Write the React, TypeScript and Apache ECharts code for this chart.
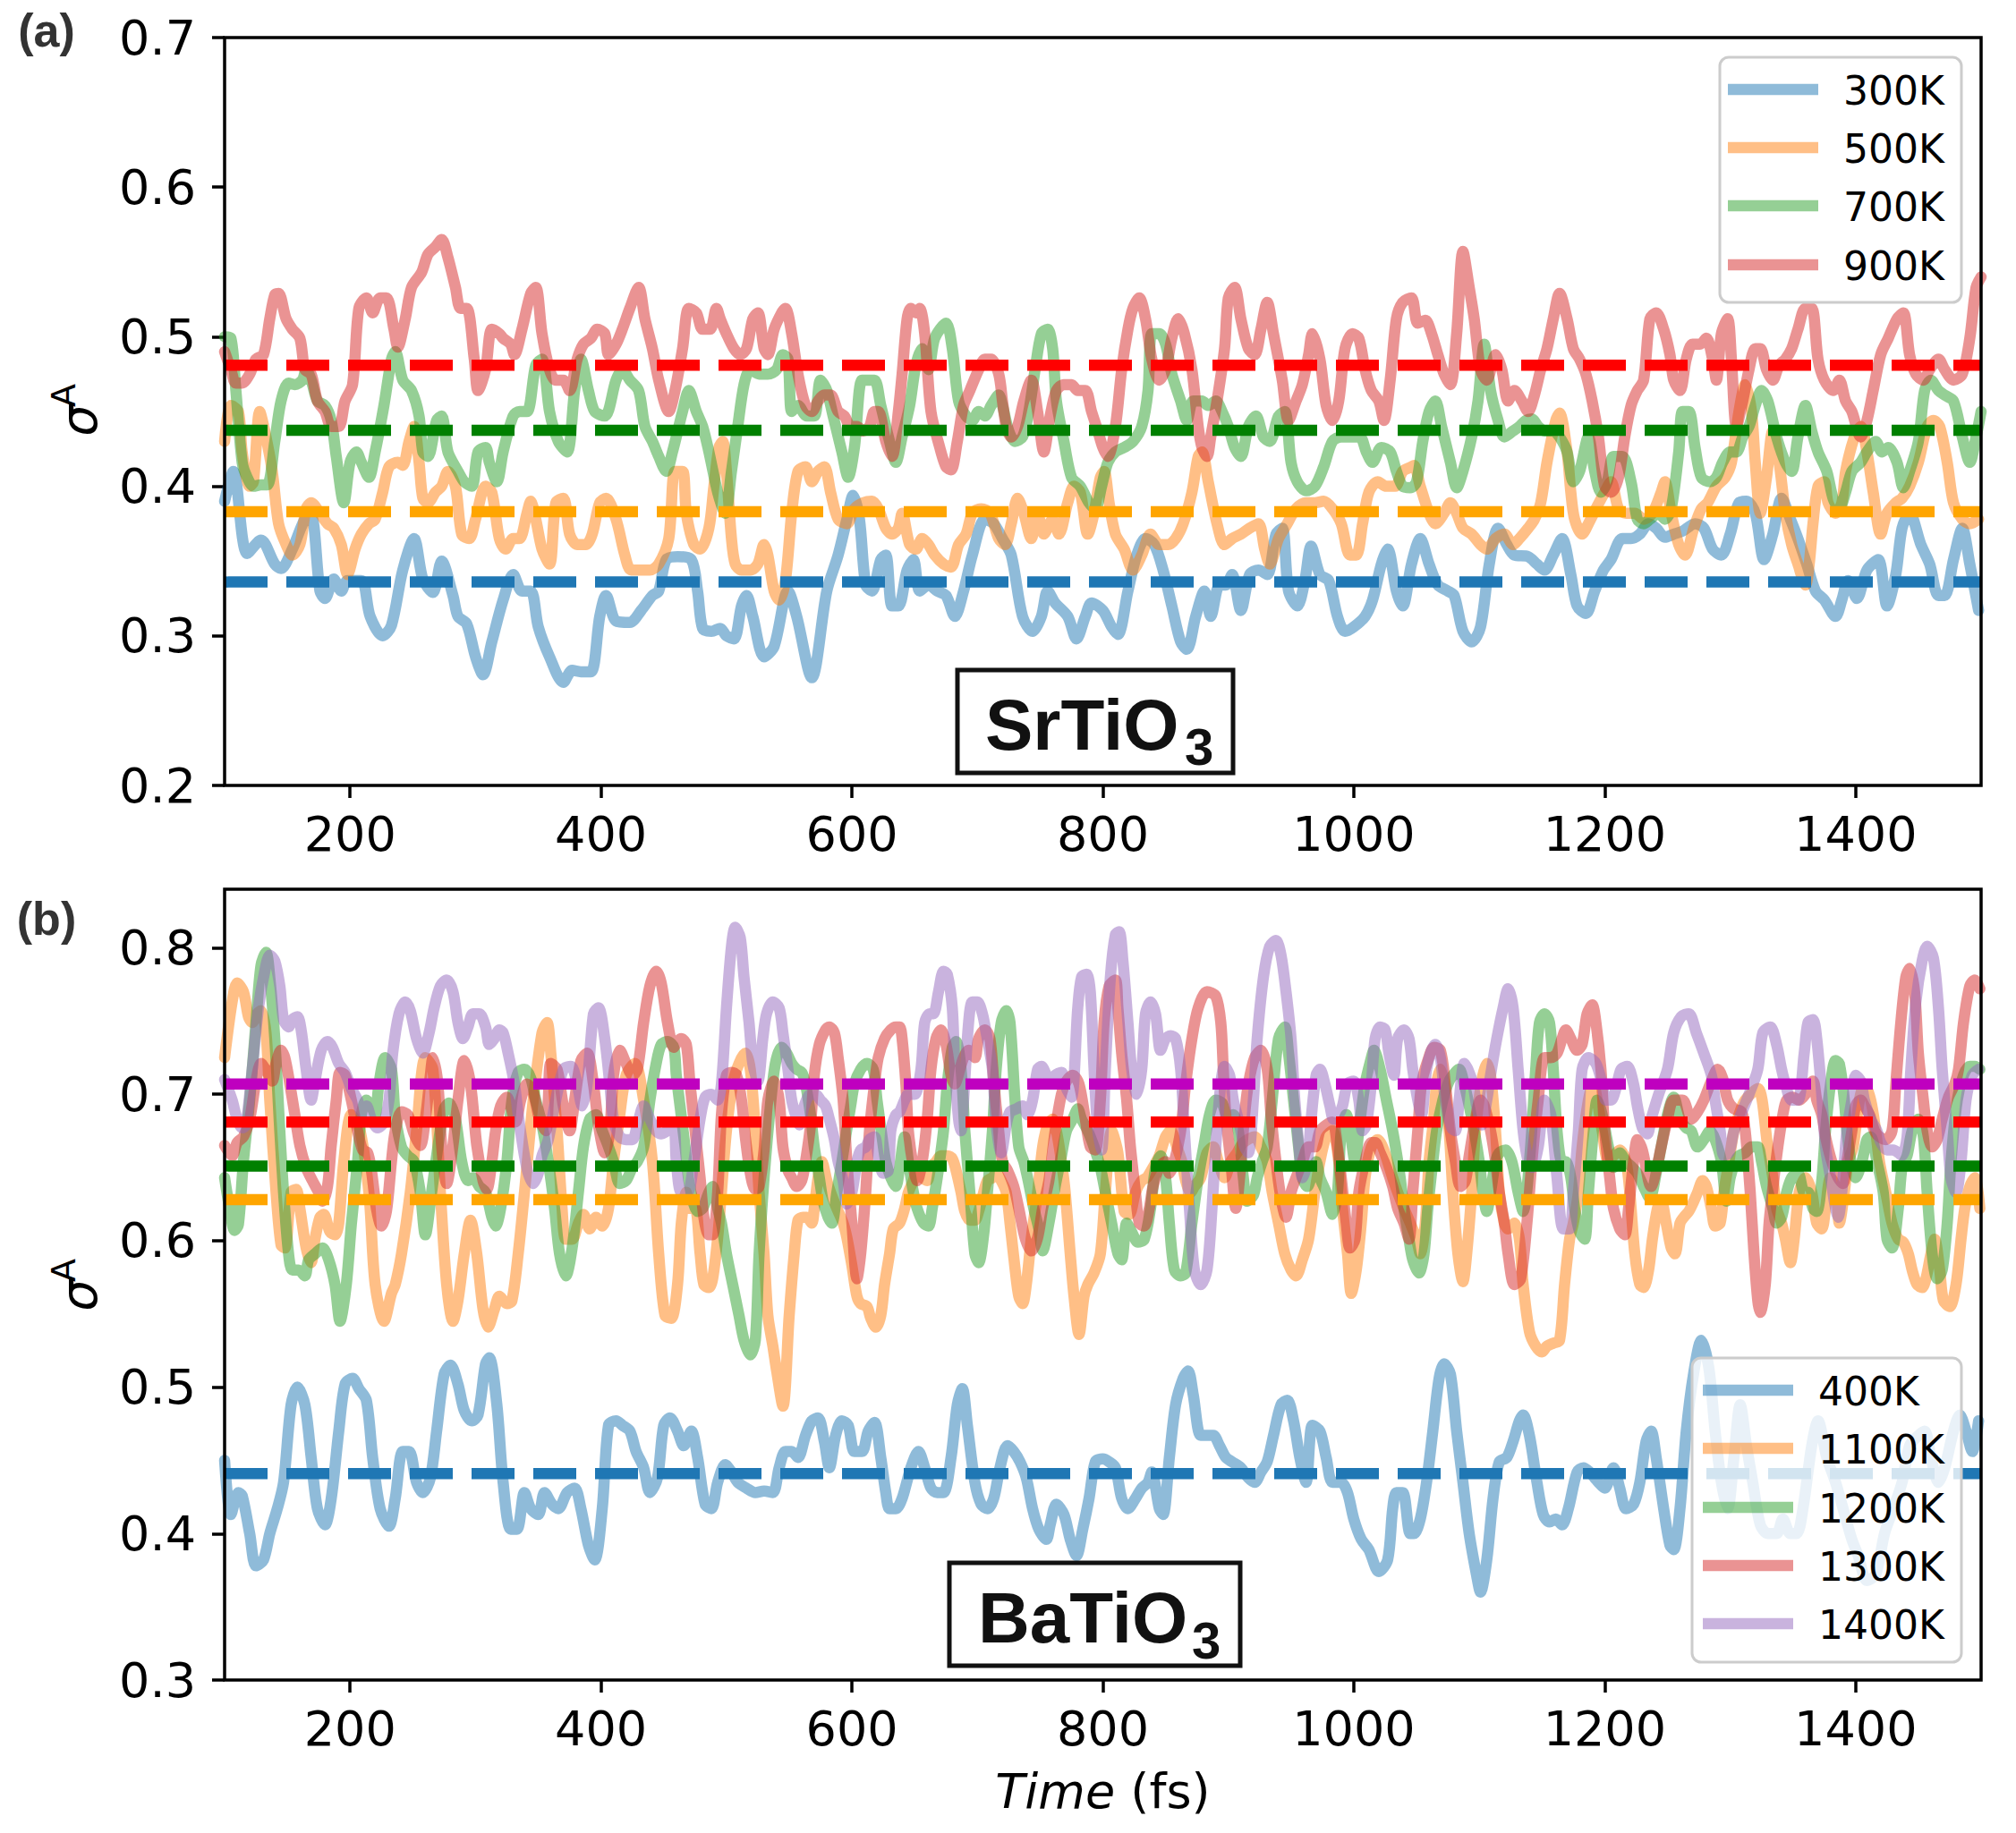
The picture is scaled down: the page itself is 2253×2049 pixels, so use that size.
import React, { useEffect, useRef } from "react";
import * as echarts from "echarts";

const W = 2253;
const H = 2049;

// ---------- tick values ----------
const xTicks = [200, 400, 600, 800, 1000, 1200, 1400];
const stoYTicks = [0.2, 0.3, 0.4, 0.5, 0.6, 0.7];
const btoYTicks = [0.3, 0.4, 0.5, 0.6, 0.7, 0.8];

// ---------- legend names / colours ----------
const stoNames = ["300K", "500K", "700K", "900K"];
const btoNames = ["400K", "1100K", "1200K", "1300K", "1400K"];
const lineRGB = ["31,119,180", "255,127,14", "44,160,44", "214,39,40", "148,103,189"];
const stoMeanColors = ["#1f77b4", "#ffa500", "#008000", "#ff0000"];
const btoMeanColors = ["#1f77b4", "#ffa500", "#008000", "#ff0000", "#bf00bf"];

// ---------- mean values (dashed lines) ----------
const stoMeans = [0.336, 0.383, 0.4375, 0.481];
const btoMeans = [0.441, 0.628, 0.651, 0.681, 0.707];

// ---------- (a) SrTiO3 ----------
const sto300 = [[100,0.39],[107,0.41],[118,0.355],[129,0.364],[140,0.348],[145,0.345],[154,0.358],[164,0.378],[169,0.38],[176,0.33],[180,0.325],[187,0.338],[193,0.33],[198,0.337],[209,0.337],[216,0.313],[226,0.30],[233,0.307],[242,0.344],[251,0.365],[258,0.338],[266,0.329],[273,0.35],[282,0.327],[286,0.313],[293,0.308],[300,0.286],[306,0.274],[313,0.296],[322,0.324],[330,0.341],[337,0.33],[344,0.33],[350,0.306],[359,0.286],[370,0.269],[377,0.277],[384,0.276],[392,0.276],[399,0.313],[404,0.327],[412,0.31],[423,0.309],[432,0.317],[441,0.327],[446,0.33],[452,0.351],[461,0.353],[472,0.351],[477,0.33],[481,0.305],[488,0.303],[495,0.305],[500,0.30],[506,0.298],[512,0.32],[516,0.327],[521,0.313],[530,0.286],[538,0.293],[549,0.33],[556,0.313],[568,0.272],[580,0.33],[589,0.354],[596,0.378],[601,0.394],[606,0.378],[611,0.334],[616,0.33],[623,0.351],[627,0.354],[632,0.32],[637,0.32],[644,0.344],[649,0.351],[654,0.33],[661,0.334],[668,0.33],[675,0.327],[682,0.313],[689,0.33],[696,0.354],[706,0.378],[713,0.375],[720,0.365],[727,0.354],[736,0.313],[744,0.303],[751,0.313],[756,0.33],[762,0.322],[772,0.313],[779,0.298],[786,0.313],[791,0.322],[800,0.317],[807,0.306],[812,0.301],[820,0.33],[827,0.354],[834,0.365],[841,0.361],[848,0.344],[855,0.32],[862,0.296],[867,0.291],[874,0.313],[881,0.33],[886,0.313],[893,0.334],[898,0.334],[903,0.341],[910,0.317],[917,0.341],[924,0.344],[931,0.341],[938,0.368],[943,0.372],[948,0.33],[955,0.32],[961,0.337],[966,0.36],[973,0.341],[980,0.337],[987,0.313],[993,0.303],[1000,0.306],[1009,0.313],[1015,0.324],[1022,0.348],[1027,0.358],[1034,0.33],[1039,0.32],[1046,0.348],[1053,0.365],[1060,0.348],[1067,0.334],[1075,0.33],[1080,0.327],[1087,0.303],[1094,0.296],[1101,0.306],[1108,0.348],[1115,0.372],[1122,0.361],[1128,0.354],[1139,0.353],[1146,0.348],[1152,0.344],[1159,0.354],[1166,0.365],[1173,0.341],[1178,0.32],[1185,0.315],[1192,0.33],[1199,0.344],[1205,0.351],[1214,0.365],[1221,0.365],[1228,0.368],[1235,0.375],[1241,0.372],[1248,0.366],[1255,0.368],[1262,0.37],[1272,0.375],[1279,0.372],[1286,0.358],[1293,0.354],[1300,0.368],[1307,0.389],[1313,0.39],[1320,0.382],[1327,0.351],[1334,0.368],[1341,0.392],[1348,0.378],[1354,0.365],[1361,0.348],[1368,0.33],[1375,0.324],[1384,0.313],[1389,0.324],[1394,0.337],[1401,0.325],[1409,0.344],[1418,0.351],[1425,0.32],[1432,0.341],[1437,0.372],[1443,0.382],[1452,0.361],[1459,0.348],[1466,0.327],[1471,0.327],[1478,0.351],[1485,0.372],[1491,0.348],[1498,0.317]];

const sto500 = [[100,0.43],[105,0.454],[111,0.45],[114,0.423],[120,0.40],[123,0.403],[128,0.45],[132,0.437],[138,0.41],[143,0.375],[149,0.361],[154,0.354],[160,0.361],[165,0.385],[169,0.389],[176,0.382],[182,0.375],[187,0.372],[193,0.361],[198,0.341],[204,0.358],[209,0.368],[215,0.375],[220,0.378],[226,0.396],[231,0.413],[238,0.416],[242,0.414],[247,0.43],[251,0.44],[255,0.416],[258,0.392],[262,0.389],[268,0.396],[273,0.40],[278,0.41],[284,0.40],[289,0.368],[295,0.365],[300,0.378],[308,0.40],[313,0.396],[319,0.365],[324,0.358],[330,0.365],[335,0.365],[341,0.382],[344,0.39],[348,0.378],[353,0.358],[359,0.348],[364,0.389],[370,0.392],[375,0.368],[381,0.361],[388,0.361],[393,0.368],[399,0.389],[404,0.392],[412,0.378],[419,0.354],[424,0.344],[432,0.344],[439,0.344],[446,0.348],[454,0.365],[459,0.41],[465,0.41],[468,0.382],[474,0.361],[479,0.358],[486,0.372],[490,0.40],[494,0.426],[497,0.43],[500,0.41],[504,0.365],[507,0.348],[512,0.344],[519,0.344],[525,0.348],[530,0.361],[533,0.354],[538,0.33],[542,0.324],[547,0.337],[552,0.382],[557,0.41],[563,0.413],[568,0.403],[573,0.41],[578,0.413],[583,0.396],[589,0.378],[596,0.375],[602,0.385],[609,0.389],[616,0.39],[621,0.385],[627,0.372],[632,0.368],[637,0.372],[640,0.382],[646,0.361],[651,0.358],[656,0.365],[661,0.361],[666,0.354],[673,0.348],[679,0.346],[685,0.361],[691,0.368],[696,0.382],[703,0.385],[710,0.382],[717,0.365],[722,0.361],[727,0.375],[732,0.392],[737,0.382],[743,0.365],[748,0.382],[753,0.368],[760,0.378],[765,0.368],[772,0.389],[777,0.40],[782,0.396],[788,0.368],[793,0.382],[798,0.406],[801,0.41],[805,0.389],[810,0.368],[817,0.358],[824,0.344],[831,0.354],[838,0.368],[845,0.361],[852,0.361],[858,0.365],[864,0.375],[871,0.396],[876,0.42],[879,0.423],[884,0.403],[891,0.375],[897,0.361],[903,0.365],[910,0.368],[917,0.372],[924,0.375],[929,0.358],[933,0.348],[940,0.365],[947,0.375],[954,0.385],[962,0.389],[969,0.389],[976,0.39],[983,0.385],[990,0.375],[997,0.354],[1002,0.354],[1007,0.375],[1012,0.396],[1019,0.403],[1026,0.40],[1033,0.40],[1039,0.41],[1046,0.413],[1048,0.414],[1053,0.40],[1060,0.382],[1065,0.375],[1072,0.382],[1077,0.389],[1082,0.382],[1087,0.372],[1094,0.368],[1101,0.361],[1106,0.358],[1113,0.365],[1120,0.368],[1127,0.361],[1132,0.365],[1139,0.372],[1144,0.378],[1149,0.389],[1154,0.416],[1161,0.444],[1164,0.449],[1170,0.423],[1173,0.396],[1176,0.378],[1182,0.368],[1187,0.375],[1193,0.385],[1200,0.396],[1205,0.403],[1211,0.385],[1217,0.382],[1224,0.382],[1231,0.378],[1238,0.382],[1245,0.396],[1248,0.403],[1253,0.382],[1259,0.361],[1264,0.354],[1271,0.372],[1277,0.385],[1282,0.389],[1289,0.40],[1296,0.406],[1301,0.416],[1307,0.45],[1312,0.468],[1317,0.45],[1320,0.416],[1324,0.382],[1329,0.406],[1334,0.437],[1339,0.416],[1344,0.382],[1349,0.361],[1354,0.348],[1360,0.334],[1363,0.348],[1366,0.375],[1370,0.40],[1375,0.403],[1378,0.389],[1384,0.382],[1389,0.389],[1392,0.41],[1399,0.433],[1404,0.44],[1409,0.423],[1414,0.396],[1420,0.368],[1425,0.382],[1432,0.389],[1437,0.392],[1443,0.40],[1450,0.416],[1457,0.44],[1462,0.444],[1467,0.44],[1473,0.416],[1478,0.389],[1485,0.378],[1491,0.375],[1498,0.378]];

const sto700 = [[100,0.50],[105,0.499],[109,0.464],[114,0.416],[118,0.406],[123,0.40],[129,0.401],[134,0.401],[140,0.43],[145,0.457],[151,0.469],[156,0.468],[162,0.471],[165,0.478],[169,0.471],[174,0.457],[180,0.454],[185,0.444],[189,0.42],[195,0.389],[200,0.416],[205,0.423],[209,0.416],[215,0.406],[220,0.423],[227,0.454],[233,0.485],[236,0.49],[242,0.471],[249,0.464],[255,0.447],[258,0.423],[262,0.42],[269,0.444],[273,0.447],[278,0.423],[286,0.41],[291,0.403],[297,0.40],[302,0.423],[308,0.426],[311,0.416],[317,0.403],[322,0.423],[330,0.447],[335,0.45],[341,0.45],[348,0.481],[353,0.485],[359,0.45],[366,0.43],[373,0.423],[379,0.464],[384,0.485],[390,0.464],[395,0.45],[403,0.447],[412,0.471],[417,0.478],[423,0.471],[430,0.464],[435,0.44],[441,0.43],[446,0.42],[452,0.41],[457,0.423],[465,0.45],[470,0.464],[476,0.45],[481,0.44],[486,0.423],[493,0.396],[499,0.382],[504,0.41],[509,0.44],[514,0.468],[519,0.478],[526,0.475],[533,0.475],[540,0.478],[545,0.488],[549,0.485],[552,0.45],[557,0.454],[564,0.447],[570,0.447],[575,0.471],[580,0.464],[585,0.447],[592,0.423],[597,0.406],[602,0.426],[608,0.471],[613,0.471],[618,0.471],[623,0.454],[630,0.43],[635,0.416],[640,0.433],[646,0.454],[651,0.481],[656,0.492],[661,0.478],[666,0.499],[675,0.509],[680,0.492],[685,0.457],[691,0.447],[696,0.444],[701,0.45],[706,0.447],[711,0.454],[717,0.461],[720,0.454],[725,0.437],[730,0.43],[736,0.433],[741,0.45],[746,0.478],[751,0.502],[756,0.505],[760,0.492],[763,0.457],[769,0.43],[775,0.406],[782,0.40],[789,0.389],[794,0.385],[799,0.40],[804,0.416],[810,0.423],[817,0.426],[824,0.43],[831,0.44],[836,0.464],[839,0.502],[845,0.502],[850,0.495],[855,0.475],[862,0.457],[867,0.444],[872,0.457],[879,0.457],[884,0.454],[890,0.457],[895,0.45],[900,0.44],[905,0.426],[910,0.42],[916,0.44],[922,0.447],[928,0.433],[933,0.43],[940,0.447],[945,0.45],[950,0.416],[955,0.403],[962,0.397],[969,0.40],[976,0.413],[983,0.43],[990,0.433],[1000,0.433],[1005,0.433],[1010,0.423],[1015,0.416],[1022,0.426],[1029,0.423],[1034,0.41],[1039,0.40],[1045,0.399],[1050,0.403],[1055,0.43],[1060,0.45],[1065,0.457],[1070,0.44],[1077,0.416],[1082,0.399],[1087,0.41],[1094,0.433],[1099,0.457],[1104,0.495],[1109,0.464],[1115,0.444],[1120,0.433],[1127,0.437],[1132,0.44],[1137,0.444],[1142,0.445],[1147,0.44],[1152,0.437],[1159,0.437],[1164,0.433],[1170,0.423],[1175,0.403],[1180,0.41],[1187,0.433],[1192,0.41],[1197,0.396],[1202,0.403],[1207,0.42],[1214,0.42],[1221,0.403],[1226,0.378],[1231,0.375],[1236,0.378],[1243,0.382],[1248,0.378],[1253,0.385],[1259,0.423],[1262,0.45],[1267,0.45],[1272,0.426],[1277,0.406],[1284,0.403],[1289,0.406],[1294,0.416],[1300,0.423],[1305,0.423],[1310,0.433],[1315,0.44],[1320,0.454],[1325,0.464],[1330,0.457],[1337,0.433],[1344,0.416],[1349,0.41],[1354,0.433],[1360,0.454],[1365,0.437],[1370,0.423],[1377,0.41],[1382,0.392],[1387,0.385],[1392,0.396],[1397,0.41],[1404,0.416],[1409,0.423],[1416,0.43],[1421,0.423],[1426,0.426],[1433,0.416],[1438,0.399],[1443,0.41],[1450,0.43],[1455,0.464],[1460,0.471],[1466,0.464],[1471,0.461],[1478,0.457],[1485,0.433],[1491,0.416],[1496,0.433],[1500,0.45]];

const sto900 = [[100,0.49],[105,0.478],[109,0.469],[114,0.469],[120,0.475],[125,0.485],[131,0.488],[136,0.512],[140,0.528],[143,0.529],[149,0.512],[154,0.505],[160,0.499],[164,0.478],[169,0.475],[174,0.457],[180,0.45],[185,0.44],[191,0.44],[196,0.457],[202,0.468],[207,0.519],[213,0.526],[218,0.516],[224,0.526],[229,0.526],[235,0.505],[238,0.493],[244,0.512],[249,0.533],[257,0.543],[262,0.555],[268,0.56],[273,0.565],[278,0.553],[284,0.533],[288,0.519],[293,0.519],[299,0.485],[302,0.464],[308,0.478],[313,0.505],[319,0.502],[322,0.499],[328,0.495],[331,0.488],[337,0.505],[344,0.529],[348,0.533],[353,0.502],[359,0.478],[364,0.471],[370,0.471],[375,0.464],[381,0.485],[386,0.495],[392,0.499],[397,0.505],[403,0.502],[406,0.488],[412,0.495],[417,0.505],[423,0.519],[430,0.533],[435,0.512],[441,0.492],[446,0.471],[454,0.45],[459,0.464],[465,0.492],[470,0.519],[476,0.516],[481,0.505],[487,0.505],[492,0.519],[495,0.512],[500,0.502],[506,0.492],[511,0.488],[516,0.492],[521,0.512],[525,0.516],[530,0.492],[533,0.488],[538,0.505],[544,0.516],[547,0.519],[552,0.502],[557,0.475],[563,0.454],[568,0.45],[573,0.457],[578,0.461],[583,0.461],[589,0.45],[594,0.447],[599,0.44],[604,0.44],[609,0.437],[614,0.44],[618,0.45],[621,0.45],[627,0.43],[632,0.42],[637,0.45],[640,0.475],[644,0.512],[647,0.519],[651,0.516],[654,0.519],[658,0.502],[663,0.45],[670,0.426],[675,0.413],[679,0.411],[684,0.43],[689,0.454],[694,0.464],[701,0.478],[706,0.485],[711,0.485],[717,0.475],[720,0.457],[723,0.44],[727,0.433],[732,0.44],[737,0.457],[743,0.471],[748,0.45],[753,0.423],[758,0.447],[763,0.464],[769,0.468],[775,0.468],[780,0.464],[786,0.464],[791,0.45],[796,0.437],[800,0.426],[804,0.42],[810,0.44],[815,0.478],[820,0.505],[824,0.519],[829,0.526],[834,0.512],[839,0.485],[845,0.471],[850,0.478],[855,0.499],[860,0.512],[865,0.502],[871,0.478],[876,0.44],[879,0.426],[883,0.42],[886,0.433],[891,0.457],[897,0.492],[900,0.526],[905,0.533],[910,0.512],[916,0.492],[921,0.488],[926,0.505],[931,0.523],[936,0.502],[943,0.471],[948,0.444],[954,0.457],[959,0.468],[964,0.488],[967,0.502],[973,0.485],[978,0.454],[983,0.444],[988,0.457],[993,0.492],[999,0.502],[1004,0.499],[1009,0.478],[1014,0.464],[1020,0.457],[1024,0.444],[1029,0.471],[1034,0.512],[1039,0.523],[1046,0.526],[1051,0.509],[1057,0.511],[1062,0.502],[1067,0.488],[1072,0.475],[1077,0.468],[1082,0.502],[1087,0.557],[1092,0.533],[1096,0.512],[1101,0.478],[1106,0.471],[1113,0.488],[1118,0.478],[1123,0.457],[1128,0.464],[1134,0.457],[1139,0.45],[1144,0.461],[1149,0.478],[1154,0.492],[1159,0.512],[1164,0.529],[1170,0.512],[1175,0.492],[1180,0.485],[1185,0.475],[1190,0.457],[1195,0.433],[1200,0.40],[1205,0.396],[1211,0.406],[1216,0.433],[1221,0.454],[1226,0.464],[1231,0.471],[1236,0.512],[1241,0.516],[1247,0.505],[1252,0.488],[1255,0.471],[1260,0.464],[1265,0.485],[1270,0.495],[1276,0.495],[1281,0.499],[1286,0.485],[1289,0.471],[1293,0.502],[1298,0.512],[1301,0.485],[1305,0.44],[1310,0.457],[1315,0.478],[1320,0.492],[1324,0.492],[1329,0.478],[1334,0.471],[1339,0.481],[1344,0.485],[1349,0.492],[1354,0.505],[1360,0.519],[1365,0.519],[1370,0.485],[1375,0.471],[1382,0.464],[1387,0.471],[1392,0.457],[1397,0.45],[1404,0.433],[1409,0.444],[1414,0.464],[1420,0.488],[1426,0.499],[1433,0.512],[1438,0.516],[1443,0.488],[1448,0.475],[1454,0.471],[1459,0.478],[1466,0.485],[1471,0.478],[1478,0.471],[1485,0.475],[1491,0.499],[1496,0.533],[1500,0.54]];

// ---------- (b) BaTiO3 ----------
const bto400 = [[100,0.45],[105,0.413],[111,0.428],[114,0.426],[120,0.40],[125,0.378],[131,0.382],[136,0.40],[142,0.417],[147,0.435],[153,0.488],[158,0.50],[164,0.488],[169,0.452],[174,0.417],[180,0.406],[185,0.424],[191,0.47],[196,0.502],[202,0.506],[207,0.499],[213,0.491],[218,0.452],[224,0.417],[231,0.405],[236,0.424],[242,0.456],[247,0.456],[253,0.435],[258,0.428],[264,0.438],[269,0.47],[275,0.509],[280,0.515],[286,0.502],[291,0.484],[297,0.477],[302,0.481],[308,0.516],[311,0.52],[317,0.488],[322,0.435],[328,0.403],[333,0.403],[339,0.428],[344,0.417],[350,0.413],[355,0.428],[361,0.42],[366,0.417],[373,0.428],[379,0.431],[384,0.417],[390,0.392],[395,0.382],[401,0.417],[406,0.474],[412,0.477],[417,0.474],[423,0.47],[428,0.456],[434,0.445],[439,0.428],[445,0.438],[450,0.474],[455,0.479],[461,0.47],[466,0.46],[472,0.47],[477,0.452],[483,0.42],[488,0.417],[493,0.435],[499,0.447],[504,0.442],[509,0.435],[516,0.431],[523,0.428],[530,0.429],[537,0.428],[542,0.445],[547,0.456],[552,0.456],[557,0.452],[563,0.467],[568,0.477],[573,0.479],[578,0.463],[582,0.445],[587,0.467],[592,0.477],[597,0.474],[602,0.456],[608,0.456],[613,0.47],[618,0.476],[623,0.452],[627,0.428],[630,0.417],[635,0.417],[640,0.424],[647,0.445],[653,0.456],[658,0.445],[663,0.431],[668,0.428],[673,0.428],[679,0.452],[684,0.488],[688,0.499],[692,0.474],[698,0.435],[703,0.42],[708,0.417],[713,0.424],[718,0.445],[724,0.46],[729,0.456],[734,0.449],[739,0.438],[744,0.417],[749,0.403],[755,0.396],[758,0.406],[763,0.42],[769,0.413],[774,0.396],[779,0.385],[784,0.403],[789,0.424],[794,0.449],[800,0.451],[805,0.449],[810,0.445],[815,0.424],[820,0.417],[826,0.424],[831,0.431],[836,0.435],[839,0.442],[845,0.417],[848,0.413],[853,0.452],[858,0.488],[864,0.506],[868,0.511],[872,0.495],[878,0.467],[883,0.467],[888,0.467],[893,0.46],[898,0.452],[903,0.449],[910,0.445],[916,0.438],[921,0.435],[926,0.442],[931,0.449],[936,0.467],[942,0.488],[947,0.491],[952,0.477],[957,0.452],[962,0.435],[967,0.474],[973,0.47],[978,0.452],[983,0.435],[990,0.435],[995,0.428],[1000,0.41],[1006,0.396],[1012,0.389],[1020,0.374],[1027,0.382],[1031,0.417],[1034,0.428],[1039,0.428],[1045,0.40],[1048,0.40],[1053,0.41],[1058,0.435],[1063,0.47],[1068,0.506],[1072,0.516],[1077,0.509],[1082,0.47],[1087,0.435],[1092,0.40],[1098,0.371],[1101,0.36],[1106,0.382],[1111,0.424],[1116,0.449],[1122,0.452],[1127,0.463],[1132,0.477],[1135,0.481],[1140,0.467],[1146,0.435],[1151,0.413],[1156,0.408],[1161,0.41],[1166,0.406],[1171,0.417],[1178,0.442],[1183,0.445],[1188,0.442],[1195,0.435],[1200,0.431],[1207,0.445],[1212,0.431],[1217,0.417],[1223,0.42],[1228,0.435],[1233,0.463],[1237,0.47],[1241,0.452],[1247,0.417],[1252,0.392],[1255,0.389],[1260,0.417],[1265,0.47],[1271,0.51],[1277,0.532],[1283,0.513],[1288,0.47],[1293,0.435],[1298,0.417],[1303,0.452],[1308,0.488],[1313,0.46],[1318,0.435],[1324,0.406],[1330,0.40],[1337,0.40],[1342,0.41],[1348,0.40],[1353,0.40],[1358,0.417],[1365,0.46],[1370,0.477],[1377,0.452],[1384,0.435],[1390,0.417],[1397,0.396],[1402,0.385],[1409,0.368],[1416,0.372],[1423,0.40],[1430,0.417],[1437,0.435],[1443,0.46],[1450,0.467],[1455,0.47],[1460,0.452],[1466,0.435],[1471,0.445],[1478,0.47],[1483,0.481],[1488,0.47],[1493,0.456],[1498,0.477]];

const bto1100 = [[100,0.725],[106,0.763],[110,0.776],[115,0.77],[119,0.753],[122,0.749],[126,0.755],[129,0.757],[133,0.742],[136,0.696],[141,0.633],[145,0.597],[148,0.595],[153,0.633],[157,0.635],[160,0.622],[165,0.595],[169,0.585],[172,0.601],[176,0.616],[179,0.618],[184,0.606],[188,0.604],[191,0.612],[195,0.654],[201,0.686],[208,0.675],[215,0.633],[220,0.57],[227,0.545],[233,0.564],[236,0.57],[241,0.591],[248,0.633],[253,0.675],[260,0.725],[266,0.717],[272,0.633],[277,0.57],[282,0.545],[286,0.559],[291,0.591],[296,0.614],[301,0.591],[306,0.553],[310,0.541],[315,0.553],[319,0.562],[325,0.557],[329,0.559],[334,0.591],[339,0.633],[346,0.696],[353,0.742],[357,0.749],[360,0.728],[365,0.675],[369,0.622],[372,0.601],[377,0.601],[382,0.612],[386,0.618],[391,0.608],[396,0.616],[401,0.61],[406,0.622],[410,0.654],[415,0.686],[420,0.713],[427,0.721],[434,0.696],[441,0.654],[446,0.591],[451,0.549],[456,0.547],[461,0.57],[464,0.612],[468,0.633],[471,0.622],[475,0.622],[479,0.591],[482,0.57],[486,0.568],[489,0.574],[493,0.602],[496,0.633],[500,0.675],[505,0.707],[510,0.721],[515,0.728],[519,0.717],[523,0.675],[526,0.633],[530,0.591],[533,0.549],[537,0.528],[540,0.511],[545,0.487],[550,0.549],[554,0.591],[557,0.614],[561,0.616],[564,0.616],[568,0.612],[570,0.622],[573,0.643],[576,0.654],[580,0.641],[583,0.633],[588,0.622],[593,0.612],[596,0.602],[600,0.583],[604,0.562],[607,0.557],[612,0.555],[615,0.547],[619,0.541],[623,0.549],[626,0.57],[630,0.591],[633,0.608],[638,0.612],[642,0.622],[645,0.633],[649,0.641],[652,0.648],[656,0.643],[660,0.641],[663,0.65],[667,0.654],[671,0.658],[676,0.658],[680,0.656],[683,0.648],[687,0.633],[690,0.62],[694,0.614],[698,0.614],[701,0.62],[705,0.633],[708,0.641],[712,0.643],[715,0.646],[719,0.641],[723,0.633],[726,0.612],[730,0.581],[733,0.562],[736,0.557],[739,0.57],[743,0.602],[748,0.633],[752,0.664],[756,0.679],[760,0.683],[763,0.675],[767,0.654],[770,0.633],[774,0.591],[777,0.562],[781,0.536],[785,0.562],[788,0.57],[793,0.578],[798,0.591],[802,0.633],[807,0.675],[812,0.66],[817,0.62],[821,0.618],[826,0.633],[831,0.641],[835,0.643],[840,0.65],[845,0.658],[850,0.671],[854,0.675],[859,0.664],[863,0.654],[866,0.641],[870,0.633],[873,0.637],[878,0.643],[883,0.66],[888,0.664],[892,0.654],[897,0.643],[902,0.654],[907,0.66],[912,0.667],[921,0.671],[926,0.664],[931,0.654],[935,0.633],[940,0.612],[945,0.591],[950,0.58],[954,0.576],[959,0.587],[964,0.601],[969,0.633],[973,0.654],[978,0.671],[983,0.675],[988,0.654],[991,0.622],[995,0.591],[998,0.564],[1002,0.58],[1006,0.612],[1009,0.643],[1014,0.664],[1019,0.669],[1023,0.664],[1027,0.654],[1031,0.643],[1035,0.633],[1040,0.622],[1045,0.612],[1050,0.601],[1053,0.591],[1057,0.612],[1060,0.654],[1064,0.686],[1066,0.707],[1069,0.717],[1072,0.707],[1076,0.675],[1079,0.633],[1083,0.591],[1087,0.572],[1090,0.591],[1094,0.633],[1097,0.675],[1102,0.709],[1106,0.721],[1109,0.713],[1113,0.675],[1116,0.633],[1120,0.612],[1123,0.608],[1128,0.612],[1132,0.601],[1135,0.57],[1140,0.538],[1145,0.528],[1150,0.524],[1154,0.528],[1159,0.53],[1164,0.532],[1168,0.57],[1172,0.601],[1175,0.612],[1179,0.633],[1182,0.664],[1187,0.696],[1191,0.707],[1194,0.696],[1198,0.675],[1203,0.654],[1207,0.658],[1212,0.662],[1217,0.654],[1220,0.633],[1224,0.591],[1228,0.57],[1231,0.568],[1235,0.58],[1238,0.601],[1242,0.622],[1245,0.627],[1249,0.612],[1253,0.595],[1256,0.591],[1260,0.612],[1263,0.616],[1267,0.62],[1270,0.625],[1274,0.633],[1278,0.641],[1281,0.637],[1285,0.622],[1288,0.61],[1292,0.612],[1295,0.633],[1299,0.654],[1303,0.675],[1307,0.686],[1312,0.696],[1322,0.704],[1330,0.664],[1334,0.643],[1337,0.622],[1341,0.612],[1344,0.601],[1348,0.585],[1351,0.601],[1355,0.633],[1360,0.643],[1365,0.633],[1369,0.612],[1373,0.608],[1376,0.622],[1380,0.643],[1384,0.637],[1387,0.612],[1391,0.633],[1394,0.654],[1398,0.664],[1403,0.696],[1407,0.707],[1412,0.696],[1416,0.675],[1419,0.654],[1424,0.633],[1429,0.612],[1434,0.601],[1438,0.599],[1442,0.591],[1445,0.58],[1449,0.57],[1453,0.568],[1456,0.574],[1460,0.591],[1463,0.601],[1467,0.58],[1470,0.559],[1475,0.555],[1480,0.57],[1484,0.601],[1487,0.622],[1491,0.637],[1495,0.643],[1499,0.622]];

const bto1200 = [[100,0.643],[104,0.622],[108,0.607],[111,0.611],[115,0.654],[120,0.696],[125,0.749],[129,0.788],[133,0.797],[136,0.78],[140,0.738],[144,0.675],[147,0.633],[151,0.591],[154,0.58],[159,0.58],[164,0.576],[167,0.587],[172,0.591],[178,0.595],[183,0.587],[188,0.57],[192,0.545],[197,0.57],[201,0.611],[206,0.654],[209,0.686],[213,0.696],[217,0.692],[220,0.686],[223,0.707],[228,0.725],[233,0.717],[236,0.686],[241,0.664],[246,0.658],[251,0.654],[256,0.633],[260,0.604],[265,0.633],[270,0.664],[275,0.69],[279,0.694],[284,0.683],[289,0.654],[294,0.641],[298,0.643],[303,0.637],[308,0.633],[313,0.616],[316,0.61],[320,0.622],[325,0.654],[329,0.696],[334,0.715],[339,0.717],[344,0.711],[348,0.696],[353,0.679],[358,0.654],[363,0.622],[367,0.591],[372,0.576],[377,0.595],[382,0.633],[386,0.664],[391,0.683],[396,0.686],[401,0.675],[406,0.664],[410,0.654],[415,0.639],[420,0.641],[425,0.65],[429,0.654],[434,0.664],[439,0.696],[444,0.721],[448,0.734],[453,0.736],[458,0.732],[460,0.713],[463,0.692],[467,0.664],[470,0.641],[474,0.625],[477,0.62],[481,0.622],[486,0.633],[489,0.637],[493,0.622],[496,0.612],[500,0.591],[505,0.57],[510,0.549],[514,0.532],[519,0.522],[523,0.532],[526,0.591],[530,0.643],[535,0.692],[539,0.721],[544,0.732],[548,0.728],[552,0.721],[556,0.717],[560,0.715],[563,0.707],[567,0.686],[570,0.664],[574,0.643],[577,0.627],[581,0.616],[584,0.612],[588,0.633],[592,0.654],[595,0.671],[599,0.692],[602,0.707],[607,0.717],[612,0.721],[617,0.717],[620,0.696],[624,0.671],[627,0.654],[631,0.643],[635,0.637],[638,0.65],[642,0.671],[645,0.654],[649,0.633],[652,0.622],[657,0.612],[661,0.61],[664,0.622],[668,0.643],[673,0.675],[676,0.707],[680,0.732],[683,0.736],[687,0.717],[690,0.675],[694,0.633],[698,0.591],[701,0.585],[705,0.604],[708,0.633],[712,0.675],[715,0.717],[719,0.749],[723,0.757],[726,0.749],[730,0.696],[733,0.664],[737,0.654],[740,0.643],[745,0.622],[749,0.608],[752,0.593],[757,0.612],[762,0.637],[767,0.658],[771,0.675],[776,0.683],[780,0.69],[783,0.683],[788,0.675],[793,0.664],[798,0.65],[802,0.633],[807,0.612],[812,0.591],[815,0.587],[819,0.612],[823,0.606],[828,0.599],[833,0.601],[838,0.622],[842,0.65],[846,0.658],[850,0.643],[853,0.612],[857,0.58],[862,0.576],[866,0.578],[871,0.612],[876,0.643],[881,0.667],[885,0.686],[890,0.696],[895,0.694],[900,0.683],[904,0.686],[908,0.675],[912,0.643],[915,0.627],[920,0.631],[923,0.643],[927,0.654],[931,0.664],[935,0.696],[940,0.738],[945,0.746],[948,0.728],[952,0.696],[956,0.664],[959,0.643],[963,0.637],[966,0.643],[970,0.654],[973,0.643],[978,0.633],[983,0.618],[987,0.633],[990,0.675],[994,0.686],[997,0.675],[1001,0.654],[1004,0.675],[1009,0.707],[1014,0.725],[1016,0.73],[1021,0.717],[1026,0.696],[1031,0.675],[1034,0.66],[1037,0.643],[1040,0.622],[1044,0.601],[1047,0.587],[1052,0.578],[1056,0.591],[1059,0.622],[1063,0.654],[1066,0.675],[1071,0.696],[1076,0.709],[1081,0.715],[1084,0.717],[1088,0.707],[1092,0.692],[1096,0.675],[1100,0.654],[1103,0.633],[1106,0.62],[1109,0.633],[1113,0.654],[1116,0.66],[1121,0.662],[1126,0.654],[1131,0.633],[1135,0.62],[1140,0.654],[1145,0.717],[1148,0.749],[1152,0.755],[1156,0.749],[1159,0.717],[1162,0.675],[1166,0.654],[1169,0.654],[1173,0.643],[1176,0.622],[1180,0.606],[1184,0.601],[1187,0.633],[1191,0.675],[1194,0.696],[1198,0.686],[1203,0.664],[1207,0.65],[1212,0.66],[1217,0.654],[1222,0.65],[1226,0.646],[1231,0.637],[1236,0.629],[1241,0.646],[1245,0.664],[1250,0.686],[1255,0.698],[1260,0.683],[1265,0.677],[1269,0.675],[1274,0.664],[1279,0.669],[1284,0.675],[1288,0.669],[1293,0.654],[1297,0.627],[1300,0.643],[1304,0.654],[1307,0.658],[1312,0.66],[1317,0.664],[1322,0.664],[1325,0.654],[1329,0.637],[1334,0.622],[1337,0.612],[1341,0.616],[1345,0.633],[1349,0.643],[1354,0.646],[1359,0.633],[1362,0.633],[1366,0.622],[1369,0.62],[1373,0.641],[1376,0.675],[1380,0.707],[1384,0.723],[1387,0.721],[1391,0.696],[1393,0.675],[1397,0.65],[1400,0.643],[1405,0.654],[1409,0.669],[1412,0.671],[1417,0.654],[1422,0.633],[1425,0.601],[1429,0.595],[1434,0.622],[1437,0.65],[1441,0.658],[1445,0.675],[1450,0.683],[1454,0.671],[1457,0.633],[1461,0.591],[1465,0.574],[1469,0.58],[1473,0.612],[1476,0.654],[1481,0.696],[1486,0.713],[1491,0.719],[1495,0.719],[1499,0.717]];

const bto1300 = [[100,0.665],[106,0.658],[110,0.667],[115,0.671],[120,0.683],[125,0.709],[129,0.721],[134,0.715],[138,0.709],[141,0.721],[145,0.73],[148,0.725],[152,0.707],[156,0.686],[160,0.665],[165,0.65],[170,0.641],[175,0.633],[178,0.627],[182,0.637],[185,0.665],[189,0.696],[192,0.715],[196,0.713],[201,0.696],[206,0.675],[210,0.662],[214,0.66],[217,0.648],[221,0.622],[225,0.61],[229,0.62],[233,0.654],[236,0.675],[241,0.688],[246,0.686],[251,0.673],[256,0.665],[260,0.683],[264,0.713],[266,0.725],[270,0.707],[273,0.665],[277,0.639],[282,0.665],[286,0.696],[291,0.723],[296,0.707],[301,0.665],[306,0.641],[309,0.635],[313,0.654],[316,0.675],[320,0.692],[325,0.698],[328,0.692],[332,0.681],[336,0.696],[341,0.707],[346,0.701],[351,0.683],[356,0.675],[358,0.696],[360,0.721],[365,0.717],[370,0.692],[375,0.675],[379,0.696],[384,0.723],[389,0.728],[394,0.707],[398,0.679],[403,0.66],[407,0.675],[410,0.713],[415,0.73],[420,0.721],[425,0.713],[429,0.717],[434,0.749],[439,0.774],[444,0.784],[448,0.776],[453,0.749],[458,0.732],[461,0.736],[464,0.738],[468,0.734],[471,0.707],[475,0.675],[479,0.643],[482,0.616],[486,0.604],[489,0.604],[493,0.633],[496,0.686],[500,0.713],[504,0.715],[508,0.713],[512,0.696],[515,0.671],[519,0.646],[523,0.635],[526,0.637],[530,0.662],[533,0.696],[538,0.709],[542,0.696],[545,0.664],[549,0.648],[552,0.643],[556,0.637],[560,0.641],[563,0.654],[567,0.679],[570,0.713],[574,0.734],[579,0.744],[582,0.746],[586,0.742],[589,0.725],[593,0.696],[596,0.654],[600,0.612],[604,0.574],[607,0.591],[611,0.633],[614,0.675],[618,0.707],[621,0.725],[626,0.738],[631,0.744],[635,0.746],[638,0.746],[640,0.738],[643,0.707],[645,0.675],[649,0.65],[652,0.641],[656,0.654],[660,0.683],[663,0.717],[667,0.738],[671,0.744],[675,0.734],[679,0.713],[682,0.707],[686,0.717],[689,0.725],[693,0.73],[698,0.725],[701,0.738],[706,0.744],[710,0.738],[713,0.709],[717,0.675],[720,0.654],[724,0.648],[729,0.637],[733,0.622],[738,0.602],[743,0.593],[748,0.602],[752,0.622],[757,0.641],[762,0.675],[767,0.70],[771,0.709],[776,0.713],[781,0.707],[786,0.683],[790,0.664],[794,0.662],[798,0.696],[801,0.749],[805,0.774],[810,0.778],[812,0.759],[815,0.728],[819,0.696],[822,0.664],[826,0.633],[829,0.612],[833,0.61],[837,0.622],[840,0.637],[845,0.65],[850,0.654],[853,0.646],[857,0.654],[862,0.675],[866,0.707],[871,0.738],[876,0.759],[883,0.77],[890,0.767],[894,0.749],[896,0.717],[898,0.686],[902,0.654],[906,0.622],[909,0.643],[913,0.686],[916,0.707],[921,0.725],[926,0.73],[931,0.717],[934,0.686],[938,0.654],[942,0.629],[946,0.616],[950,0.633],[954,0.643],[959,0.654],[964,0.664],[969,0.664],[973,0.675],[978,0.679],[983,0.681],[987,0.664],[990,0.643],[994,0.612],[997,0.595],[1001,0.601],[1004,0.633],[1009,0.654],[1014,0.667],[1017,0.667],[1021,0.66],[1026,0.65],[1031,0.637],[1035,0.622],[1040,0.612],[1044,0.601],[1047,0.633],[1051,0.675],[1054,0.707],[1059,0.723],[1064,0.732],[1069,0.73],[1073,0.707],[1077,0.675],[1081,0.654],[1085,0.637],[1089,0.641],[1092,0.658],[1097,0.683],[1101,0.696],[1104,0.692],[1109,0.675],[1113,0.654],[1116,0.633],[1120,0.612],[1123,0.591],[1128,0.57],[1133,0.574],[1138,0.612],[1142,0.654],[1147,0.696],[1152,0.725],[1157,0.725],[1162,0.728],[1166,0.738],[1169,0.744],[1173,0.738],[1178,0.73],[1182,0.734],[1186,0.755],[1190,0.761],[1193,0.749],[1197,0.717],[1200,0.675],[1204,0.643],[1207,0.622],[1212,0.608],[1216,0.604],[1219,0.622],[1223,0.654],[1226,0.669],[1230,0.662],[1237,0.637],[1241,0.648],[1245,0.664],[1250,0.683],[1255,0.696],[1262,0.696],[1269,0.683],[1274,0.688],[1279,0.696],[1285,0.709],[1290,0.717],[1294,0.711],[1298,0.696],[1303,0.69],[1309,0.688],[1312,0.675],[1316,0.633],[1319,0.591],[1322,0.559],[1324,0.551],[1328,0.57],[1331,0.612],[1335,0.643],[1338,0.664],[1342,0.686],[1345,0.696],[1350,0.698],[1355,0.696],[1360,0.70],[1366,0.709],[1369,0.696],[1373,0.686],[1376,0.671],[1381,0.654],[1386,0.643],[1390,0.639],[1393,0.654],[1397,0.675],[1400,0.692],[1404,0.696],[1407,0.692],[1411,0.686],[1415,0.675],[1419,0.671],[1424,0.669],[1429,0.675],[1432,0.707],[1436,0.749],[1440,0.78],[1443,0.786],[1447,0.77],[1450,0.728],[1454,0.696],[1457,0.675],[1461,0.664],[1465,0.669],[1469,0.683],[1474,0.698],[1479,0.707],[1482,0.717],[1486,0.749],[1491,0.774],[1495,0.778],[1499,0.772]];

const bto1400 = [[100,0.71],[106,0.696],[110,0.683],[114,0.677],[117,0.679],[122,0.717],[127,0.759],[132,0.784],[136,0.795],[140,0.791],[144,0.774],[147,0.751],[151,0.746],[154,0.751],[158,0.753],[161,0.744],[165,0.717],[169,0.696],[172,0.709],[177,0.73],[182,0.736],[186,0.732],[191,0.721],[196,0.715],[201,0.704],[206,0.696],[209,0.688],[213,0.692],[217,0.683],[222,0.677],[227,0.681],[231,0.696],[234,0.728],[239,0.755],[244,0.763],[248,0.757],[253,0.738],[258,0.728],[263,0.742],[267,0.759],[272,0.774],[277,0.778],[282,0.77],[286,0.749],[290,0.738],[294,0.746],[298,0.755],[303,0.755],[308,0.746],[311,0.734],[315,0.738],[319,0.744],[322,0.742],[326,0.728],[331,0.707],[334,0.686],[339,0.658],[342,0.646],[346,0.639],[350,0.646],[353,0.658],[358,0.669],[363,0.692],[370,0.717],[376,0.719],[381,0.707],[385,0.692],[389,0.707],[394,0.755],[398,0.759],[403,0.738],[407,0.707],[410,0.683],[415,0.671],[420,0.669],[425,0.669],[429,0.679],[434,0.692],[439,0.683],[444,0.675],[448,0.673],[453,0.675],[458,0.677],[460,0.654],[464,0.633],[469,0.633],[474,0.654],[479,0.683],[483,0.698],[488,0.70],[493,0.696],[496,0.707],[500,0.759],[504,0.801],[507,0.814],[511,0.807],[514,0.78],[518,0.749],[521,0.721],[525,0.709],[529,0.738],[532,0.755],[537,0.763],[542,0.759],[545,0.742],[549,0.717],[552,0.696],[556,0.683],[558,0.679],[562,0.692],[567,0.70],[571,0.70],[575,0.696],[579,0.692],[582,0.683],[586,0.669],[589,0.654],[593,0.641],[596,0.625],[600,0.633],[604,0.654],[607,0.662],[611,0.664],[614,0.669],[618,0.671],[621,0.658],[625,0.646],[629,0.648],[631,0.675],[635,0.686],[638,0.688],[642,0.696],[645,0.70],[650,0.70],[655,0.717],[658,0.749],[662,0.755],[665,0.755],[669,0.77],[673,0.784],[676,0.782],[680,0.759],[682,0.717],[685,0.683],[687,0.675],[689,0.696],[693,0.749],[696,0.763],[700,0.763],[704,0.755],[707,0.742],[712,0.717],[715,0.679],[719,0.66],[723,0.679],[726,0.688],[731,0.69],[736,0.692],[740,0.686],[744,0.696],[748,0.717],[751,0.719],[755,0.713],[758,0.707],[762,0.713],[767,0.715],[771,0.704],[775,0.698],[780,0.759],[783,0.78],[787,0.782],[790,0.77],[793,0.717],[796,0.675],[799,0.662],[802,0.717],[806,0.78],[810,0.809],[813,0.811],[816,0.791],[820,0.749],[823,0.717],[827,0.70],[831,0.717],[834,0.755],[838,0.763],[842,0.755],[846,0.73],[850,0.738],[854,0.74],[858,0.738],[862,0.717],[865,0.675],[869,0.622],[873,0.58],[878,0.57],[883,0.58],[887,0.622],[890,0.664],[894,0.707],[897,0.719],[901,0.713],[904,0.696],[909,0.679],[913,0.664],[916,0.66],[920,0.696],[923,0.738],[928,0.78],[933,0.801],[938,0.805],[942,0.795],[946,0.77],[950,0.738],[953,0.696],[957,0.658],[959,0.643],[963,0.654],[966,0.683],[970,0.713],[973,0.717],[977,0.707],[981,0.692],[984,0.683],[988,0.686],[991,0.692],[995,0.707],[1000,0.709],[1004,0.696],[1007,0.675],[1010,0.679],[1014,0.707],[1017,0.738],[1021,0.746],[1025,0.744],[1028,0.728],[1032,0.713],[1035,0.738],[1040,0.744],[1044,0.738],[1047,0.717],[1051,0.696],[1054,0.686],[1058,0.717],[1062,0.73],[1065,0.734],[1069,0.725],[1073,0.696],[1078,0.677],[1081,0.675],[1084,0.696],[1088,0.721],[1091,0.717],[1095,0.707],[1098,0.692],[1102,0.679],[1106,0.696],[1109,0.713],[1114,0.738],[1119,0.759],[1123,0.772],[1127,0.759],[1131,0.717],[1135,0.675],[1139,0.654],[1142,0.65],[1147,0.664],[1152,0.696],[1157,0.686],[1162,0.643],[1167,0.608],[1172,0.608],[1175,0.633],[1179,0.675],[1182,0.717],[1187,0.725],[1193,0.721],[1198,0.707],[1201,0.696],[1205,0.696],[1209,0.704],[1213,0.717],[1218,0.719],[1223,0.707],[1226,0.692],[1230,0.677],[1234,0.673],[1237,0.683],[1243,0.70],[1250,0.717],[1255,0.742],[1261,0.753],[1267,0.755],[1273,0.742],[1279,0.728],[1285,0.713],[1288,0.696],[1292,0.675],[1295,0.658],[1299,0.66],[1303,0.675],[1307,0.683],[1315,0.70],[1322,0.717],[1326,0.742],[1332,0.746],[1337,0.734],[1341,0.717],[1344,0.707],[1349,0.696],[1354,0.696],[1359,0.728],[1362,0.749],[1366,0.751],[1369,0.738],[1373,0.70],[1376,0.664],[1380,0.643],[1384,0.622],[1386,0.616],[1390,0.643],[1393,0.675],[1397,0.696],[1400,0.713],[1404,0.709],[1407,0.696],[1412,0.683],[1417,0.675],[1420,0.667],[1425,0.662],[1430,0.662],[1434,0.66],[1437,0.658],[1441,0.671],[1444,0.717],[1448,0.763],[1453,0.791],[1457,0.801],[1462,0.793],[1466,0.759],[1469,0.717],[1473,0.675],[1476,0.643],[1480,0.633],[1484,0.654],[1488,0.696],[1493,0.713],[1498,0.717]];

const stoSeriesData = [sto300, sto500, sto700, sto900];
const btoSeriesData = [bto400, bto1100, bto1200, bto1300, bto1400];

// ---------- layout (pixels) ----------
const GL = 251;
const GW = 1963;
const G1T = 42, G1H = 836;
const G2T = 994, G2H = 884;
const LW = 12.5;
const FONT = "DejaVu Sans";

function axisX(gridIndex: number) {
  return {
    type: "value", gridIndex, min: 100, max: 1500,
    axisLine: { show: false }, splitLine: { show: false },
    axisTick: { show: true, length: 14, lineStyle: { color: "#000", width: 3.5 }, customValues: xTicks },
    axisLabel: { show: true, customValues: xTicks, margin: 27, fontSize: 54, fontFamily: FONT, color: "#000",
      formatter: (v: number) => String(Math.round(v)) },
  };
}
function axisY(gridIndex: number, min: number, max: number, ticks: number[]) {
  return {
    type: "value", gridIndex, min, max,
    axisLine: { show: false }, splitLine: { show: false },
    axisTick: { show: true, length: 14, lineStyle: { color: "#000", width: 3.5 }, customValues: ticks },
    axisLabel: { show: true, customValues: ticks, margin: 32, fontSize: 54, fontFamily: FONT, color: "#000",
      formatter: (v: number) => v.toFixed(1) },
  };
}

function txt(text: string, x: number, y: number, fontSize: number, extra: any = {}) {
  return {
    type: "text", z: 100,
    style: Object.assign({
      text, x, y, fontSize, fontFamily: FONT, fill: "#000",
      align: "left", verticalAlign: "middle", textAlign: "left", textVerticalAlign: "middle",
    }, extra),
  };
}

function legendBlock(names: string[], colorIdx: number[], box: any, lineX1: number, lineX2: number, textX: number, rowY: number[]) {
  const els: any[] = [{
    type: "rect", z: 99,
    shape: { x: box.x, y: box.y, width: box.w, height: box.h, r: 10 },
    style: { fill: "rgba(255,255,255,0.8)", stroke: "#cccccc", lineWidth: 3 },
  }];
  names.forEach((n, i) => {
    els.push({
      type: "line", z: 100,
      shape: { x1: lineX1, y1: rowY[i], x2: lineX2, y2: rowY[i] },
      style: { stroke: `rgba(${lineRGB[colorIdx[i]]},0.5)`, lineWidth: LW, lineCap: "butt" },
    });
    els.push(txt(n, textX, rowY[i] + 1, 44));
  });
  return els;
}

function materialBox(main: string, bx: number, by: number, bw: number, bh: number, tx: number, ty: number, sx: number, sy: number) {
  return [
    { type: "rect", z: 98, shape: { x: bx, y: by, width: bw, height: bh },
      style: { fill: "#ffffff", stroke: "#111111", lineWidth: 5 } },
    txt(main, tx, ty, 80, { fontFamily: "Liberation Sans", fontWeight: "bold", fill: "#111111" }),
    txt("3", sx, sy, 58, { fontFamily: "Liberation Sans", fontWeight: "bold", fill: "#111111" }),
  ];
}

function sigmaLabel(cx: number, cy: number) {
  return {
    type: "group", x: cx, y: cy, rotation: Math.PI / 2, z: 100,
    children: [
      { type: "text", z: 100, style: { text: "σ", x: -11, y: -1, fontSize: 56, fontFamily: FONT, fontStyle: "italic", fill: "#000",
        align: "center", verticalAlign: "middle", textAlign: "center", textVerticalAlign: "middle" } },
      { type: "text", z: 100, style: { text: "A", x: 17, y: -18, fontSize: 38, fontFamily: FONT, fill: "#000",
        align: "center", verticalAlign: "middle", textAlign: "center", textVerticalAlign: "middle" } },
    ],
  };
}

function buildOption() {
  const series: any[] = [];
  stoSeriesData.forEach((d, i) => {
    series.push({
      type: "line", name: stoNames[i], xAxisIndex: 0, yAxisIndex: 0, data: d,
      symbol: "none", smooth: 0.3, silent: true, z: 2,
      lineStyle: { color: `rgb(${lineRGB[i]})`, opacity: 0.5, width: LW, join: "round", cap: "round" },
    });
  });
  btoSeriesData.forEach((d, i) => {
    series.push({
      type: "line", name: btoNames[i], xAxisIndex: 1, yAxisIndex: 1, data: d,
      symbol: "none", smooth: 0.3, silent: true, z: 2,
      lineStyle: { color: `rgb(${lineRGB[i]})`, opacity: 0.5, width: LW, join: "round", cap: "round" },
    });
  });
  stoMeans.forEach((m, i) => {
    series.push({
      type: "line", name: "mean " + stoNames[i], xAxisIndex: 0, yAxisIndex: 0,
      data: [[100, m], [1500, m]], symbol: "none", silent: true, z: 3,
      lineStyle: { color: stoMeanColors[i], width: LW, type: [48, 21], cap: "butt" },
    });
  });
  btoMeans.forEach((m, i) => {
    series.push({
      type: "line", name: "mean " + btoNames[i], xAxisIndex: 1, yAxisIndex: 1,
      data: [[100, m], [1500, m]], symbol: "none", silent: true, z: 3,
      lineStyle: { color: btoMeanColors[i], width: LW, type: [48, 21], cap: "butt" },
    });
  });

  const graphic: any[] = [
    { type: "rect", z: 97, shape: { x: GL, y: G1T, width: GW, height: G1H }, style: { fill: "none", stroke: "#000", lineWidth: 3.5 } },
    { type: "rect", z: 97, shape: { x: GL, y: G2T, width: GW, height: G2H }, style: { fill: "none", stroke: "#000", lineWidth: 3.5 } },
    txt("(a)", 52, 34, 52, { fontFamily: "Liberation Sans", fontWeight: "bold", fill: "#333333", align: "center", textAlign: "center" }),
    txt("(b)", 52, 1027, 52, { fontFamily: "Liberation Sans", fontWeight: "bold", fill: "#333333", align: "center", textAlign: "center" }),
    sigmaLabel(89, 459),
    sigmaLabel(89, 1437),
    {
      type: "text", z: 100,
      style: {
        text: "{it|Time} (fs)", x: GL + GW / 2, y: 2002, fontSize: 54, fontFamily: FONT, fill: "#000",
        align: "center", verticalAlign: "middle", textAlign: "center", textVerticalAlign: "middle",
        rich: { it: { fontStyle: "italic", fontSize: 54, fontFamily: FONT, fill: "#000" } },
      },
    },
    ...materialBox("SrTiO", 1070, 749, 308, 115, 1101, 810, 1324, 834),
    ...materialBox("BaTiO", 1061, 1747, 325, 115, 1093, 1808, 1332, 1833),
    ...legendBlock(stoNames, [0, 1, 2, 3], { x: 1922, y: 64, w: 270, h: 274 }, 1931, 2032, 2060, [100, 165, 230, 296]),
    ...legendBlock(btoNames, [0, 1, 2, 3, 4], { x: 1891, y: 1518, w: 301, h: 340 }, 1903, 2004, 2032, [1554, 1619, 1685, 1750, 1815]),
  ];

  return {
    animation: false,
    backgroundColor: "#ffffff",
    grid: [
      { left: GL, top: G1T, width: GW, height: G1H, show: false },
      { left: GL, top: G2T, width: GW, height: G2H, show: false },
    ],
    xAxis: [axisX(0), axisX(1)],
    yAxis: [axisY(0, 0.2, 0.7, stoYTicks), axisY(1, 0.3, 0.84, btoYTicks)],
    series,
    graphic,
  };
}

export default function App() {
  const ref = useRef<HTMLDivElement>(null);
  useEffect(() => {
    document.body.style.margin = "0";
    const chart = echarts.init(ref.current as HTMLDivElement, null, { renderer: "svg", width: W, height: H });
    chart.setOption(buildOption() as any);
    return () => chart.dispose();
  }, []);
  return (
    <div
      ref={ref}
      style={{ position: "absolute", left: 0, top: 0, width: W, height: H, background: "#ffffff" }}
    />
  );
}
